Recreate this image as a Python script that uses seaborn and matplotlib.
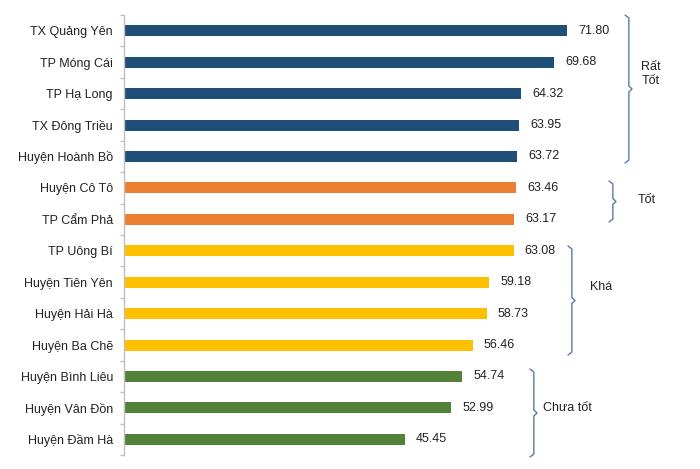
import matplotlib
matplotlib.use("Agg")
import matplotlib.pyplot as plt
import seaborn as sns
import pandas as pd
from matplotlib.lines import Line2D

categories = ["TX Quảng Yên", "TP Móng Cái", "TP Hạ Long", "TX Đông Triều", "Huyện Hoành Bồ",
              "Huyện Cô Tô", "TP Cẩm Phả",
              "TP Uông Bí", "Huyện Tiên Yên", "Huyện Hải Hà", "Huyện Ba Chẽ",
              "Huyện Bình Liêu", "Huyện Vân Đồn", "Huyện Đầm Hà"]
values = [71.80, 69.68, 64.32, 63.95, 63.72, 63.46, 63.17, 63.08, 59.18, 58.73, 56.46, 54.74, 52.99, 45.45]
groups = ["Rất Tốt"] * 5 + ["Tốt"] * 2 + ["Khá"] * 4 + ["Chưa tốt"] * 3
group_labels = ["Rất\nTốt", "Tốt", "Khá", "Chưa tốt"]
colors = {"Rất Tốt": "#1F4E79", "Tốt": "#ED7D31", "Khá": "#FFC000", "Chưa tốt": "#538135"}

df = pd.DataFrame({"cat": categories, "val": values, "grp": groups})

sns.set_theme(style="white")
plt.rcParams["font.family"] = ["Liberation Sans", "DejaVu Sans"]

W, H = 700, 469
fig = plt.figure(figsize=(7, 4.69), dpi=100)
ax_l, ax_r, ax_t, ax_b = 124, 618, 15, 455
ax = fig.add_axes([ax_l / W, 1 - ax_b / H, (ax_r - ax_l) / W, (ax_b - ax_t) / H])

sns.barplot(data=df, y="cat", x="val", hue="grp", palette=colors, dodge=False,
            width=0.35, legend=False, ax=ax, order=categories, linewidth=0,
            hue_order=["Rất Tốt", "Tốt", "Khá", "Chưa tốt"], saturation=1)
for c in ax.containers:
    ax.bar_label(c, fmt="%.2f", padding=8, fontsize=9, color="#222222")

ax.set_xlim(0, 80)
ax.set_ylim(len(categories) - 0.5, -0.5)
ax.set_xlabel("")
ax.set_ylabel("")
ax.set_xticks([])
for s in ["top", "right", "bottom"]:
    ax.spines[s].set_visible(False)
ax.spines["left"].set_color("#BFBFBF")
ax.spines["left"].set_linewidth(1)
ax.tick_params(axis="y", which="major", length=0, pad=8, labelsize=9, labelcolor="#222222")
ax.set_yticks([i - 0.5 for i in range(len(categories) + 1)], minor=True)
ax.tick_params(axis="y", which="minor", length=3, color="#BFBFBF", width=1, left=True)

# brackets (pixel coords -> figure fraction)
def fx(x):
    return x / W

def fy(y):
    return 1 - y / H

bcol = "#5B7BA6"
def brace(x0, ytop, ybot, w=7):
    ym = (ytop + ybot) / 2
    x1 = x0 + w * 0.55
    x2 = x0 + w
    xs = [x0, x1, x1, x2, x1, x1, x0]
    ys = [ytop, ytop + 3, ym - 3, ym, ym + 3, ybot - 3, ybot]
    fig.add_artist(Line2D([fx(v) for v in xs], [fy(v) for v in ys], color=bcol, lw=1.0,
                          transform=fig.transFigure))

brace(625, 15, 163)
brace(609, 181, 222)
brace(568, 246, 355)
brace(530, 369, 457)

fig.text(fx(651), fy(74), group_labels[0], ha="center", va="center", fontsize=9, color="#222222",
         linespacing=1.3)
fig.text(fx(647), fy(200), group_labels[1], ha="center", va="center", fontsize=9, color="#222222")
fig.text(fx(601), fy(287), group_labels[2], ha="center", va="center", fontsize=9, color="#222222")
fig.text(fx(543), fy(408), group_labels[3], ha="left", va="center", fontsize=9, color="#222222")

fig.savefig("out.png", dpi=100, facecolor="white")
